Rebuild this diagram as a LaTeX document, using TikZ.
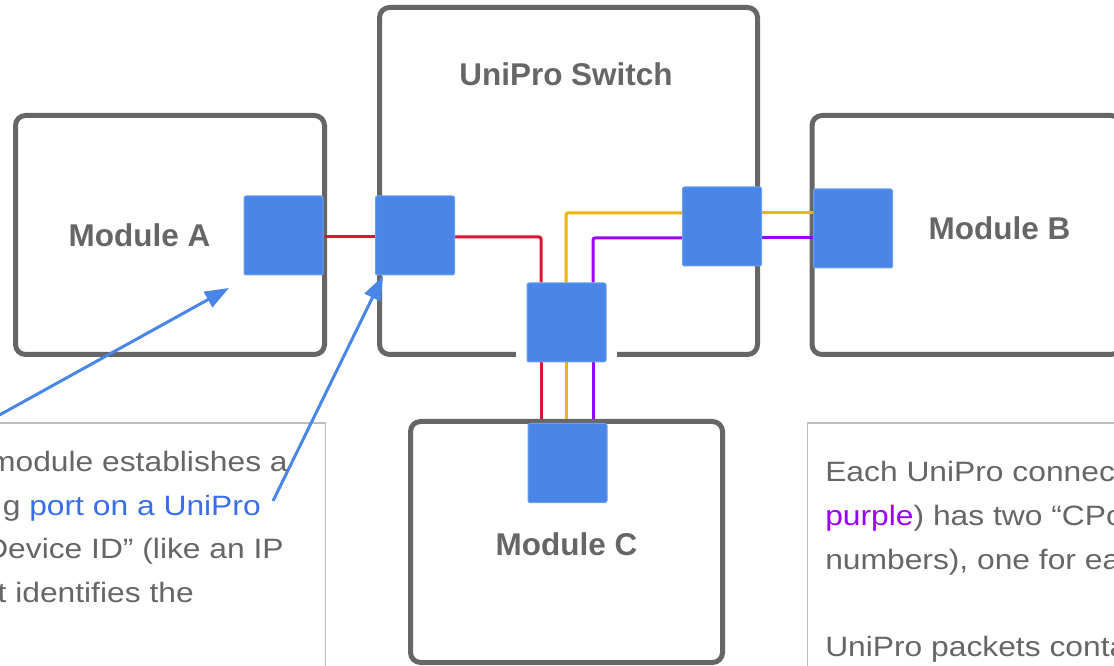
\documentclass[tikz,border=0pt]{standalone}
\usepackage{fontspec}
\setmainfont{Liberation Sans}
\usetikzlibrary{calc,arrows.meta}
\definecolor{boxgray}{HTML}{666666}
\definecolor{portblue}{HTML}{4A86E8}
\definecolor{portedge}{HTML}{6D9EEB}
\definecolor{wirered}{HTML}{DC1530}
\definecolor{wireyellow}{HTML}{F1B310}
\definecolor{wirepurple}{HTML}{9900FF}
\definecolor{textgray}{HTML}{666666}
\definecolor{linkblue}{HTML}{3A6EE8}
\definecolor{noteedge}{HTML}{BDBDBD}
\tikzset{
  module/.style={draw=boxgray, line width=3.75pt, fill=white, rounded corners=7.5pt, inner sep=0pt},
  port/.style={draw=portedge, line width=0.75pt, fill=portblue, rounded corners=1.5pt,
    minimum width=59.25pt, minimum height=59.25pt, inner sep=0pt},
  halo/.style={fill=white, minimum width=75.75pt, minimum height=75.75pt, inner sep=0pt},
  title/.style={font=\fontsize{23.6}{28}\selectfont\bfseries, text=textgray, inner sep=0pt, anchor=base},
  body/.style={font=\fontsize{21}{26}\selectfont, text=textgray, inner sep=0pt},
  wire/.style={line width=2.25pt, rounded corners=1.5pt},
  pointer/.style={draw=portblue, line width=2.25pt, -{Triangle[length=18pt,width=13pt]}},
  note/.style={draw=noteedge, line width=1.1pt, inner sep=0pt},
}
\newcommand{\wide}[1]{\scalebox{1.135}[1]{#1}}
\begin{document}
\begin{tikzpicture}[x=0.75pt,y=-0.75pt]
\useasboundingbox (0,0) rectangle (1114,666);
\clip (0,0) rectangle (1114,666);

% note boxes
\node[note, minimum width=259.1pt, minimum height=222.75pt] (noteL) at (152.75,571.5) {};
\node[note, minimum width=249.4pt, minimum height=222.75pt] (noteR) at (973.75,571.5) {};

% modules
\node[module, minimum width=231.75pt, minimum height=179.25pt] (modA) at (170,235) {};
\node[module, minimum width=283.5pt, minimum height=260.25pt] (sw) at (568.5,181) {};
\node[module, minimum width=231.75pt, minimum height=179.25pt] (modB) at (966.5,235) {};
\node[module, minimum width=234pt, minimum height=180.75pt] (modC) at (566.5,542) {};

% labels
\node[title] (tA) at (139.5,247) {Module A};
\node[title] (tS) at (566,86) {UniPro Switch};
\node[title] (tB) at (999.5,240) {Module B};
\node[title] (tC) at (566.5,555) {Module C};

% white halo around bottom switch port
\node[halo] (haloS3) at (566.5,322.5) {};

% port positions (drawn later on top)
\coordinate (cA) at (283.5,235.5);
\coordinate (cS1) at (415,235.5);
\coordinate (cS2) at (722,226.5);
\coordinate (cS3) at (566.5,322.5);
\coordinate (cB) at (853,228.5);
\coordinate (cC) at (567.5,463);
\path (cA) node[port, draw=none, fill=none] (pA) {}
      (cS1) node[port, draw=none, fill=none] (pS1) {}
      (cS2) node[port, draw=none, fill=none] (pS2) {}
      (cS3) node[port, draw=none, fill=none] (pS3) {}
      (cB) node[port, draw=none, fill=none] (pB) {}
      (cC) node[port, draw=none, fill=none] (pC) {};

% wire anchor points
\coordinate (redA) at ($(pA.east)+(0,1.5)$);
\coordinate (redS1w) at ($(pS1.west)+(0,1.5)$);
\coordinate (redS1e) at ($(pS1.east)+(0,1.5)$);
\coordinate (redS3n) at ($(pS3.north)+(-25.5,0)$);
\coordinate (yelS3n) at ($(pS3.north)+(-0.5,0)$);
\coordinate (purS3n) at ($(pS3.north)+(26.5,0)$);
\coordinate (yelS2w) at ($(pS2.west)+(0,-13.5)$);
\coordinate (purS2w) at ($(pS2.west)+(0,11.5)$);
\coordinate (yelS2e) at ($(pS2.east)+(0,-13.5)$);
\coordinate (purS2e) at ($(pS2.east)+(0,11.5)$);
\coordinate (redS3s) at ($(pS3.south)+(-25.5,0)$);
\coordinate (yelS3s) at ($(pS3.south)+(-0.5,0)$);
\coordinate (purS3s) at ($(pS3.south)+(26.5,0)$);

% wires
\draw[wire, wirered] (redA) -- (redS1w);
\draw[wire, wirered] (redS1e) -| (redS3n);
\draw[wire, wireyellow] (yelS3n) |- (yelS2w);
\draw[wire, wirepurple] (purS3n) |- (purS2w);
\draw[wire, wireyellow] (yelS2e) -- (yelS2e -| pB.west);
\draw[wire, wirepurple] (purS2e) -- (purS2e -| pB.west);
\draw[wire, wirered] (redS3s) -- (redS3s |- modC.north);
\draw[wire, wireyellow] (yelS3s) -- (yelS3s |- modC.north);
\draw[wire, wirepurple] (purS3s) -- (purS3s |- modC.north);

% ports
\foreach \p in {cA,cS1,cS2,cS3,cB,cC} {\node[port] at (\p) {};}

% pointers
\coordinate (ptrAstart) at (-15,423);
\coordinate (ptrAend) at (229,288);
\coordinate (ptrSstart) at (273,501);
\coordinate (ptrSend) at (383,276);
\draw[pointer] (ptrAstart) -- (ptrAend);
\draw[pointer] (ptrSstart) -- (ptrSend);

% note texts
\node[body, anchor=base east] (l1) at (288,471) {\wide{module establishes a}};
\node[body, anchor=base east] (l2) at (261,515) {\wide{g \textcolor{linkblue}{port on a UniPro}}};
\node[body, anchor=base east] (l3) at (284,558) {\wide{Device ID” (like an IP}};
\node[body, anchor=base east] (l4) at (194,602) {\wide{t identifies the}};

\node[body, anchor=base west] (r1) at (825,482) {\wide{Each UniPro connec}};
\node[body, anchor=base west] (r2) at (825,525.5) {\wide{\textcolor{wirepurple}{purple}) has two “CPo}};
\node[body, anchor=base west] (r3) at (825,569) {\wide{numbers), one for ea}};
\node[body, anchor=base west] (r4) at (825,656) {\wide{UniPro packets conta}};
\end{tikzpicture}
\end{document}
